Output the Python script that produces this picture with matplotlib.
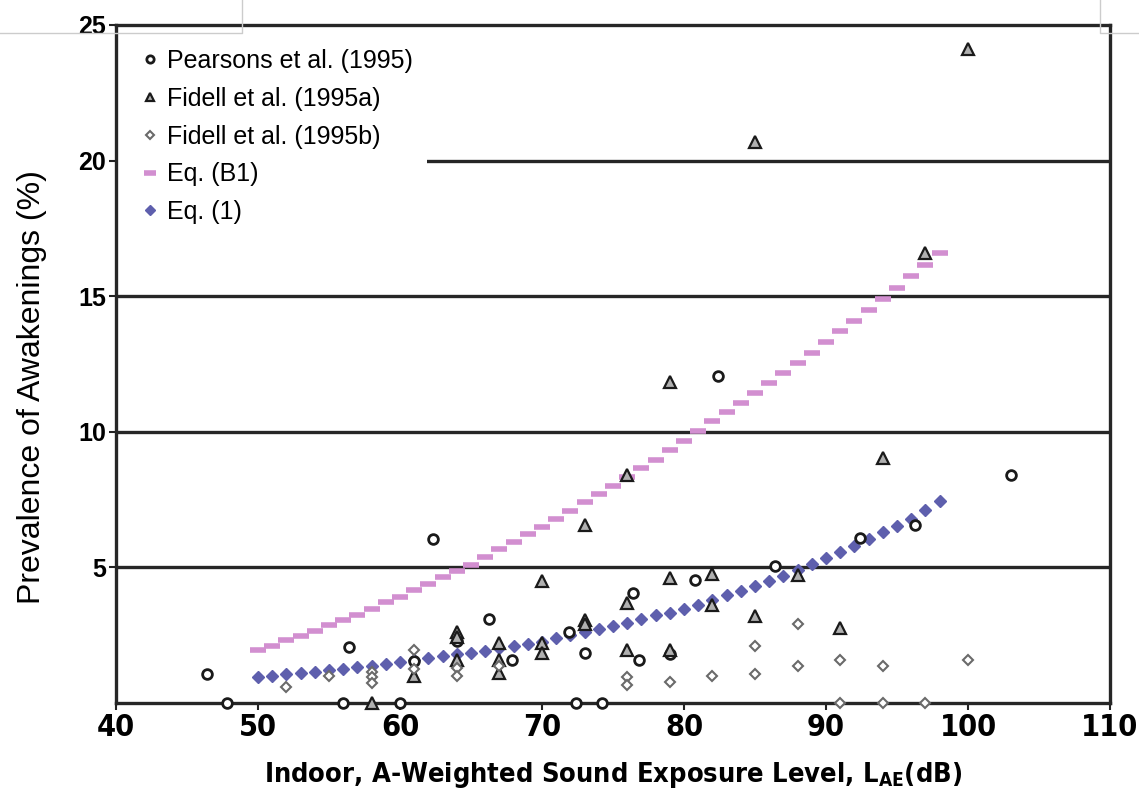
import matplotlib
matplotlib.use("Agg")
from matplotlib import pyplot as plt
from matplotlib import font_manager
from matplotlib.lines import Line2D

# fonts: Arial-like text, a condensed face for the x axis
names = {f.name for f in font_manager.fontManager.ttflist}
SANS = 'Liberation Sans' if 'Liberation Sans' in names else 'DejaVu Sans'
if 'Liberation Sans Narrow' in names:
    NARROW, STRETCH = 'Liberation Sans Narrow', 'normal'
else:
    NARROW, STRETCH = 'DejaVu Sans', 'condensed'
plt.rcParams['font.family'] = [SANS, 'DejaVu Sans']
plt.rcParams['mathtext.default'] = 'regular'

# model curves, one value per dB
eq_level = list(range(50, 99))
eq_b1 = [1.95, 2.10, 2.31, 2.48, 2.66, 2.86, 3.05, 3.24, 3.46, 3.72,
         3.92, 4.15, 4.40, 4.63, 4.88, 5.10, 5.39, 5.68, 5.93, 6.22,
         6.50, 6.79, 7.08, 7.41, 7.71, 8.00, 8.32, 8.67, 8.96, 9.33,
         9.67, 10.02, 10.39, 10.73, 11.07, 11.44, 11.79, 12.17, 12.55, 12.89,
         13.32, 13.70, 14.09, 14.49, 14.90, 15.31, 15.73, 16.16, 16.60]
eq_1 = [0.97, 1.01, 1.06, 1.12, 1.16, 1.22, 1.27, 1.33, 1.38, 1.44,
        1.51, 1.58, 1.65, 1.72, 1.79, 1.85, 1.91, 2.02, 2.12, 2.18,
        2.26, 2.38, 2.50, 2.63, 2.73, 2.84, 2.96, 3.10, 3.23, 3.32,
        3.48, 3.63, 3.80, 3.97, 4.14, 4.33, 4.50, 4.69, 4.90, 5.11,
        5.33, 5.55, 5.79, 6.05, 6.29, 6.54, 6.80, 7.12, 7.45]

# field studies
pearsons_x = [46.4, 47.8, 56.4, 56.0, 60.0, 61.0, 62.3, 64.0, 66.3, 67.9,
              71.9, 72.4, 73.0, 74.2, 76.4, 76.8, 79.0, 80.8, 82.4, 86.4,
              92.4, 96.3, 103.0]
pearsons_y = [1.07, 0.0, 2.08, 0.0, 0.0, 1.55, 6.05, 2.30, 3.10, 1.59,
              2.60, 0.0, 1.85, 0.0, 4.07, 1.58, 1.80, 4.54, 12.05, 5.07,
              6.07, 6.56, 8.40]

fidell_a_x = [58.0, 61.0, 64.0, 64.0, 64.0, 67.0, 67.0, 67.0, 70.0, 70.0,
              70.0, 73.0, 73.0, 73.0, 76.0, 76.0, 76.0, 79.0, 79.0, 79.0,
              82.0, 82.0, 85.0, 85.0, 88.0, 91.0, 94.0, 97.0, 100.0]
fidell_a_y = [0.0, 1.00, 2.60, 2.45, 1.60, 2.20, 1.60, 1.10, 4.50, 2.20,
              1.85, 6.55, 3.05, 2.90, 8.40, 3.70, 1.95, 11.85, 4.60, 1.95,
              4.75, 3.60, 20.70, 3.20, 4.72, 2.75, 9.05, 16.60, 24.10]

fidell_b_x = [52.0, 55.0, 58.0, 58.0, 58.0, 61.0, 61.0, 64.0, 64.0, 67.0,
              76.0, 76.0, 79.0, 82.0, 85.0, 85.0, 88.0, 88.0, 91.0, 91.0,
              94.0, 94.0, 97.0, 100.0]
fidell_b_y = [0.60, 1.00, 1.15, 0.95, 0.72, 1.95, 1.25, 1.30, 1.00, 1.35,
              0.95, 0.68, 0.79, 0.98, 2.10, 1.08, 2.90, 1.38, 1.60, 0.0,
              1.38, 0.0, 0.0, 1.60]

x_ticks = [40, 50, 60, 70, 80, 90, 100, 110]
y_ticks = [5, 10, 15, 20, 25]
grid_levels = [5, 10, 15, 20]

fig = plt.figure(figsize=(11.39, 7.89), dpi=100)
ax = fig.add_axes([116 / 1139, 1 - 703 / 789, (1110 - 116) / 1139, (703 - 25) / 789])

for g in grid_levels:
    ax.axhline(g, color='#262626', lw=2.4, zorder=1)

ax.plot(pearsons_x, pearsons_y, ls='none', marker='o', ms=7, mfc='white',
        mec='#1a1a1a', mew=2.0, clip_on=False, zorder=4, label='Pearsons et al. (1995)')
ax.plot(fidell_a_x, fidell_a_y, ls='none', marker='^', ms=8, mfc='#b0b0b0',
        mec='#1a1a1a', mew=1.6, clip_on=False, zorder=4, label='Fidell et al. (1995a)')
ax.plot(fidell_b_x, fidell_b_y, ls='none', marker='D', ms=5, mfc='white',
        mec='#6a6a6a', mew=1.5, clip_on=False, zorder=4, label='Fidell et al. (1995b)')
ax.plot(eq_level, eq_b1, ls='none', marker='_', ms=12, mew=4,
        color='#d28fd0', zorder=3, label='Eq. (B1)')
ax.plot(eq_level, eq_1, ls='none', marker='D', ms=6.5, color='#5e5fad',
        mec='#5e5fad', zorder=3, label='Eq. (1)')

ax.set_xlim(40, 110)
ax.set_ylim(0, 25)
ax.set_xticks(x_ticks)
ax.set_yticks(y_ticks)
ax.tick_params(axis='both', direction='out', width=1.5, length=5, color='#222', pad=2)
for lab in ax.get_xticklabels():
    lab.set_fontfamily([NARROW, 'DejaVu Sans'])
    lab.set_fontstretch(STRETCH)
    lab.set_fontsize(22)
    lab.set_fontweight('bold')
for lab in ax.get_yticklabels():
    lab.set_fontsize(18)
    lab.set_fontweight('bold')
for sp in ax.spines.values():
    sp.set_linewidth(2.4)
    sp.set_color('#262626')

ax.set_ylabel('Prevalence of Awakenings (%)', fontsize=23)
ax.yaxis.set_label_coords(-0.069, 0.466)
ax.set_xlabel(r'Indoor, A-Weighted Sound Exposure Level, L$_{AE}$(dB)',
              fontsize=19.5, fontweight='bold', fontstretch=STRETCH,
              family=[NARROW, 'DejaVu Sans'], labelpad=13)

leg = ax.legend(loc='upper left', bbox_to_anchor=(0.0, 0.985), fontsize=18,
                frameon=True, framealpha=1, edgecolor='none', fancybox=False,
                handlelength=1.6, handletextpad=-0.12, labelspacing=0.55,
                borderpad=0.56, borderaxespad=0.0, markerscale=0.75)
# under the frame, over the grid lines
leg.set_zorder(2)

# leftover page frame lines cut off at the top of the picture
fig.add_artist(Line2D([0, 242 / 1139, 242 / 1139], [1 - 33 / 789, 1 - 33 / 789, 1],
                      transform=fig.transFigure, color='#cccccc', lw=1))
fig.add_artist(Line2D([1, 1100 / 1139, 1100 / 1139], [1 - 33 / 789, 1 - 33 / 789, 1],
                      transform=fig.transFigure, color='#cccccc', lw=1))

fig.savefig('out.png', dpi=100)
